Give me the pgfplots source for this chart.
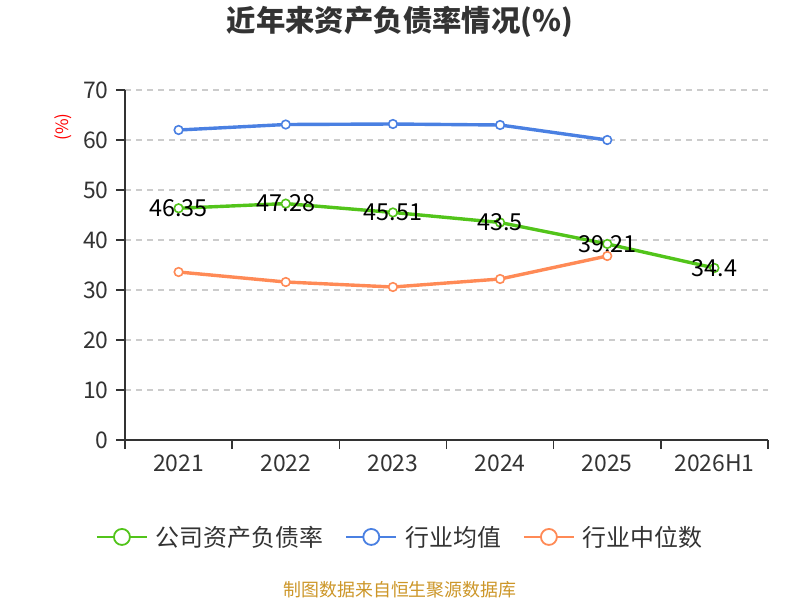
\documentclass[border=0pt]{standalone}
\usepackage{fontspec}
\setmainfont{Noto Sans CJK SC}
\usepackage{pgfplots}
\pgfplotsset{compat=1.18}
\definecolor{cgreen}{RGB}{82,196,26}
\definecolor{cblue}{RGB}{74,128,226}
\definecolor{corange}{RGB}{255,138,86}
\definecolor{ctext}{RGB}{51,51,51}
\definecolor{caxis}{RGB}{51,51,51}
\definecolor{cgrid}{RGB}{204,204,204}
\definecolor{csrc}{RGB}{204,150,40}
\begin{document}
\begin{tikzpicture}
\useasboundingbox (0,0) rectangle (800bp,600bp);
\node[font=\fontsize{29.5}{32}\selectfont\bfseries, text=ctext] at (400bp,578bp) {近年来资产负债率情况(\%)};
\node[rotate=90, text=red, font=\fontsize{17}{18}\selectfont] at (63bp,473bp) {(\%)};
\node[text=csrc, font=\fontsize{18}{19}\selectfont] at (400bp,10bp) {制图数据来自恒生聚源数据库};
\begin{axis}[
  at={(125bp,160bp)}, anchor=south west,
  scale only axis, width=643bp, height=350bp,
  xmin=-0.5, xmax=5.5, ymin=0, ymax=70,
  xtick={-0.5,0.5,...,5.5},
  xticklabels={2021,2022,2023,2024,2025,2026H1},
  x tick label as interval,
  ytick={0,10,...,70},
  axis lines*=left,
  axis line style={caxis, line width=1.6bp},
  tick align=outside,
  major tick length=9bp,
  tick style={caxis, line width=1.6bp},
  ymajorgrids,
  major grid style={cgrid, line width=1.2bp, dash pattern=on 6bp off 5bp},
  ticklabel style={font=\fontsize{23}{24}\selectfont, text=ctext},
  yticklabel style={xshift=-4bp},
  xticklabel style={yshift=-2bp},
  /pgf/number format/assume math mode=true,
  clip=false,
  legend columns=3,
  legend style={at={(rel axis cs:0.428,-0.277)}, anchor=center, draw=none, fill=none,
    font=\fontsize{24}{25}\selectfont, text=ctext,
    /tikz/every even column/.append style={column sep=20bp},
    /tikz/every odd column/.append style={column sep=6bp}},
  legend image code/.code={
    \draw[#1, mark=none, line width=2bp] (0bp,0bp) -- (50bp,0bp);
    \draw[#1, mark=none, fill=white, line width=1.8bp] (25bp,0bp) circle (8bp);
  },
]
\addplot[color=cgreen, line width=3.4bp, mark=*, mark size=4.3bp, mark options={fill=white, line width=1.6bp},
  nodes near coords,
  every node near coord/.append style={anchor=center, text=black, font=\fontsize{23.5}{24}\selectfont}]
  coordinates {(0,46.35) (1,47.28) (2,45.51) (3,43.5) (4,39.21) (5,34.4)};
\addlegendentry{公司资产负债率}
\addplot[color=cblue, line width=3.4bp, mark=*, mark size=4.3bp, mark options={fill=white, line width=1.6bp}]
  coordinates {(0,62.0) (1,63.1) (2,63.2) (3,63.0) (4,60.0)};
\addlegendentry{行业均值}
\addplot[color=corange, line width=3.4bp, mark=*, mark size=4.3bp, mark options={fill=white, line width=1.6bp}]
  coordinates {(0,33.6) (1,31.6) (2,30.6) (3,32.2) (4,36.8)};
\addlegendentry{行业中位数}
\end{axis}
\end{tikzpicture}
\end{document}
